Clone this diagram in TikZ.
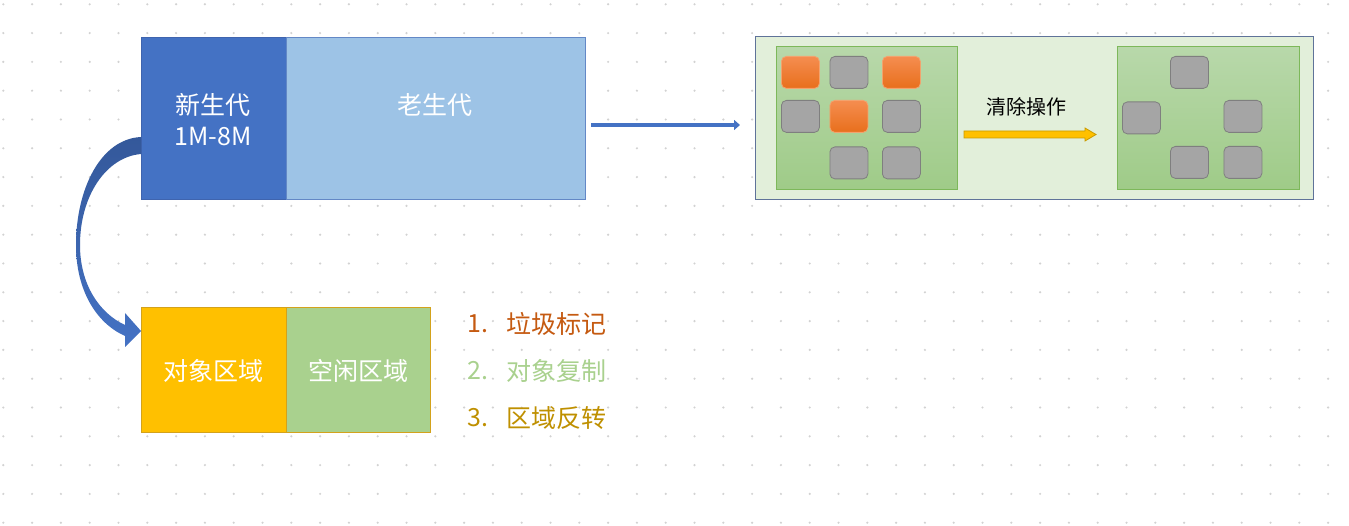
\documentclass[tikz,border=0pt]{standalone}
\usepackage{fontspec}
\newfontfamily\cjk{Noto Sans CJK SC}
\usetikzlibrary{arrows.meta}
\definecolor{dotc}{HTML}{D2D2D2}
\definecolor{youngc}{HTML}{4472C4}
\definecolor{youngb}{HTML}{3F64AE}
\definecolor{oldc}{HTML}{9DC3E6}
\definecolor{oldb}{HTML}{6388C6}
\definecolor{panelc}{HTML}{E2EFDA}
\definecolor{panelb}{HTML}{5F7399}
\definecolor{greent}{HTML}{B8D8AA}
\definecolor{greenbt}{HTML}{9FCB88}
\definecolor{greenb}{HTML}{7DB85A}
\definecolor{orat}{HTML}{F58D50}
\definecolor{orab}{HTML}{E86F1C}
\definecolor{orabd}{HTML}{F2A36E}
\definecolor{greyc}{HTML}{A5A5A5}
\definecolor{greyb}{HTML}{7F7F7F}
\definecolor{yel}{HTML}{FFC000}
\definecolor{yelb}{HTML}{C99A00}
\definecolor{goldb}{HTML}{D3A21C}
\definecolor{freec}{HTML}{A9D18E}
\definecolor{arcT}{HTML}{34589A}
\definecolor{arcB}{HTML}{4472C4}
\definecolor{listA}{HTML}{C55A11}
\definecolor{listB}{HTML}{A9D18E}
\definecolor{listC}{HTML}{BF9000}
\tikzset{
  region/.style={rectangle, inner sep=0pt, outer sep=0pt, anchor=north west, line width=1pt},
  sq/.style={rectangle, rounded corners=5pt, inner sep=0pt, anchor=north west, minimum width=38, minimum height=32, line width=0.8pt},
  redsq/.style={sq, draw=orabd, top color=orat, bottom color=orab},
  graysq/.style={sq, draw=greyb, fill=greyc},
  bigtxt/.style={font=\cjk\fontsize{25}{28}\selectfont, inner sep=0pt},
  midtxt/.style={font=\cjk\fontsize{20}{23}\selectfont, inner sep=0pt},
}
\begin{document}
\begin{tikzpicture}[x=1pt,y=-1pt]
\useasboundingbox (0,0) rectangle (1349,526);
\fill[white] (0,0) rectangle (1349,526);
% dot grid
\foreach \i in {0,...,46}{\foreach \j in {0,...,18}{
  \fill[dotc] (3.3+\i*28.8, 4.3+\j*28.8) circle (1.2);}}
% top heap
\node[region, draw=youngb, fill=youngc, minimum width=145, minimum height=162] (young) at (141,38) {};
\node[region, draw=oldb, fill=oldc, minimum width=299, minimum height=162] (old) at (286,38) {};
\node[bigtxt, text=white] (ytxt) at (213,105) {新生代};
\node[bigtxt, text=white] (ysize) at (213,137) {1M-8M};
\node[bigtxt, text=white] (otxt) at (435,105) {老生代};
% arrow to panel
\node[region, draw=panelb, fill=panelc, minimum width=558, minimum height=163] (panel) at (755,37) {};
\draw[line width=4pt, draw=youngc, shorten <=6pt, shorten >=15pt, -{Triangle[length=6pt,width=10pt]}] (old.east |- 0,125) coordinate (a0) -- (panel.west |- 0,125) coordinate (a1);
% panel contents
\node[region, draw=greenb, top color=greent, bottom color=greenbt, minimum width=181, minimum height=143] (before) at (776,47) {};
\node[region, draw=greenb, top color=greent, bottom color=greenbt, minimum width=182, minimum height=143] (after) at (1117,47) {};
\node[redsq] (b11) at (781,56) {};
\node[graysq] (b12) at (829.5,56) {};
\node[redsq] (b13) at (882,56) {};
\node[graysq] (b21) at (781,100) {};
\node[redsq] (b22) at (829.5,100) {};
\node[graysq] (b23) at (882,100) {};
\node[graysq] (b32) at (829.5,146.5) {};
\node[graysq] (b33) at (882,146.5) {};
\node[graysq] (c12) at (1170,56) {};
\node[graysq] (c21) at (1122,101.5) {};
\node[graysq] (c23) at (1223.5,100) {};
\node[graysq] (c32) at (1170,146) {};
\node[graysq] (c33) at (1223.5,146) {};
\node[midtxt, text=black] (clean) at (1026,107) {清除操作};
\draw[fill=yel, draw=yelb, line width=0.8pt] (964,131) -- (1085,131) -- (1085,128) -- (1096,134.5) -- (1085,141) -- (1085,138) -- (964,138) -- cycle;
% bottom regions
\node[region, draw=goldb, fill=yel, minimum width=145, minimum height=124] (objarea) at (141,308) {};
\node[region, draw=goldb, fill=freec, minimum width=144, minimum height=124] (freearea) at (286,308) {};
\node[bigtxt, text=white] (otext) at (213,371) {对象区域};
\node[bigtxt, text=white] (ftext) at (358,371) {空闲区域};
% curved block arrow
\shade[top color=arcT, bottom color=arcB]
  (141,137) .. controls (100,139) and (76,190) .. (76,245)
  .. controls (76,290) and (96,323) .. (125,336)
  -- (125,347) -- (141,331) -- (125,313) -- (125,325)
  .. controls (99,313) and (80,284) .. (80,245)
  .. controls (80,196) and (106,157) .. (141,154) -- cycle;
% list
\node[bigtxt, text=listA, anchor=west] (n1) at (467,324) {1.};
\node[bigtxt, text=listA, anchor=west] (l1) at (506,324) {垃圾标记};
\node[bigtxt, text=listB, anchor=west] (n2) at (467,371) {2.};
\node[bigtxt, text=listB, anchor=west] (l2) at (506,371) {对象复制};
\node[bigtxt, text=listC, anchor=west] (n3) at (467,418) {3.};
\node[bigtxt, text=listC, anchor=west] (l3) at (506,418) {区域反转};
\end{tikzpicture}
\end{document}
